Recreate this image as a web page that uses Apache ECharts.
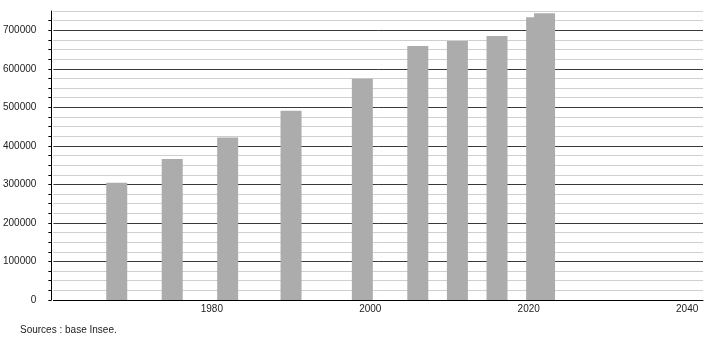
<!DOCTYPE html>
<html>
<head>
<meta charset="utf-8">
<script src="https://cdn.jsdelivr.net/npm/echarts@6/dist/echarts.min.js"></script>
<style>
html,body{margin:0;padding:0;background:#fff;}
#c{width:710px;height:340px;}
</style>
</head>
<body>
<div id="c"></div>
<script>
var years = [1968, 1975, 1982, 1990, 1999, 2006, 2011, 2016, 2021, 2022];
var population = [304000, 366000, 421500, 491000, 574000, 659000, 672000, 685000, 734000, 744000];
var sourceText = 'Sources : base Insee.';

var font = '"Liberation Sans", Arial, sans-serif';
var chart = echarts.init(document.getElementById('c'), null, {renderer: 'canvas'});
chart.setOption({
  animation: false,
  backgroundColor: '#fff',
  grid: {left: 52, right: 7, top: 11, bottom: 40},
  xAxis: {
    type: 'value', min: 1960, max: 2042, interval: 20,
    axisLine: {show: true, lineStyle: {color: '#000', width: 1}},
    axisTick: {show: false},
    splitLine: {show: false},
    axisLabel: {showMinLabel: false, showMaxLabel: false, color: '#222', fontSize: 10, fontFamily: font, margin: 4, formatter: function (v) { return String(v); }}
  },
  yAxis: {
    type: 'value', min: 0, max: 750000, interval: 25000, position: 'left', offset: 2,
    axisLine: {show: true, lineStyle: {color: '#000', width: 1}},
    axisTick: {show: true, length: 3, lineStyle: {color: '#000'}},
    axisLabel: {
      interval: 0, showMaxLabel: false, color: '#222', fontSize: 10, fontFamily: font, margin: 15,
      formatter: function (v) { return v % 100000 === 0 ? String(v) : ''; }
    },
    splitLine: {show: true, lineStyle: {color: ['#3a3a3a', '#cfcfcf', '#cfcfcf', '#cfcfcf'], width: 1}}
  },
  series: [{
    type: 'bar',
    barWidth: 21,
    itemStyle: {color: '#acacac'},
    data: years.map(function (y, i) { return [y, population[i]]; })
  }],
  graphic: [{
    type: 'text', left: 20, top: 325,
    style: {text: sourceText, fill: '#222', font: '10px ' + font}
  }]
});
</script>
</body>
</html>
